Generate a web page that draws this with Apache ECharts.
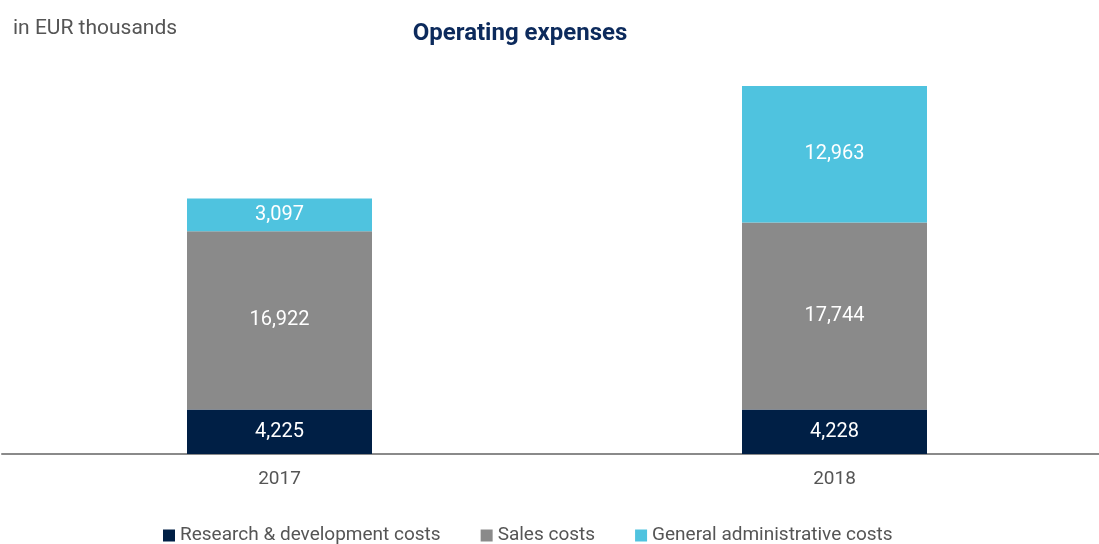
<!DOCTYPE html>
<html>
<head>
<meta charset="utf-8">
<script src="https://cdn.jsdelivr.net/npm/echarts@6/dist/echarts.min.js"></script>
<style>
  html, body { margin: 0; padding: 0; background: #fff; }
  #chart { width: 1099px; height: 544px; }
</style>
</head>
<body>
<div id="chart"></div>
<script>
const years = ['2017', '2018']
const rdCosts = [4225, 4228]
const salesCosts = [16922, 17744]
const adminCosts = [3097, 12963]
const seriesNames = ['Research & development costs', 'Sales costs', 'General administrative costs']

const font = 'Roboto, "Liberation Sans Narrow", sans-serif'
const colors = ['#001f45', '#8a8a8a', '#4fc3df']

const fmt = p => p.value.toLocaleString('en-US')

const mkSeries = (name, data, color) => ({
  name: name,
  type: 'bar',
  stack: 'total',
  barWidth: 185,
  data: data,
  itemStyle: { color: color },
  label: {
    show: true,
    position: 'inside',
    color: '#fff',
    fontFamily: font,
    fontSize: 20,
    formatter: fmt
  }
})

const chart = echarts.init(document.getElementById('chart'))
chart.setOption({
  animation: false,
  title: [
    {
      text: 'Operating expenses',
      left: 515, top: 17, textAlign: 'center',
      textStyle: { color: '#0c2a5c', fontFamily: font, fontWeight: 'bold', fontSize: 24 }
    },
    {
      text: 'in EUR thousands',
      left: 8, top: 13,
      textStyle: { color: '#555', fontFamily: font, fontWeight: 'normal', fontSize: 21 }
    }
  ],
  legend: {
    bottom: -6,
    left: 158,
    itemWidth: 12, itemHeight: 12,
    itemGap: 40,
    icon: 'rect',
    textStyle: { color: '#555', fontFamily: font, fontSize: 19 },
    data: seriesNames
  },
  grid: { left: 2, top: 86, bottom: 90, width: 1110, outerBoundsMode: 'none', containLabel: false },
  xAxis: {
    type: 'category',
    data: years,
    axisLine: { lineStyle: { color: '#8a8a8a', width: 2 } },
    axisTick: { show: false },
    axisLabel: { color: '#555', fontFamily: font, fontSize: 19, margin: 16 }
  },
  yAxis: {
    type: 'value',
    min: 0,
    max: 34935,
    show: false,
    splitLine: { show: false }
  },
  series: [
    mkSeries(seriesNames[0], rdCosts, colors[0]),
    mkSeries(seriesNames[1], salesCosts, colors[1]),
    mkSeries(seriesNames[2], adminCosts, colors[2])
  ]
})
</script>
</body>
</html>
